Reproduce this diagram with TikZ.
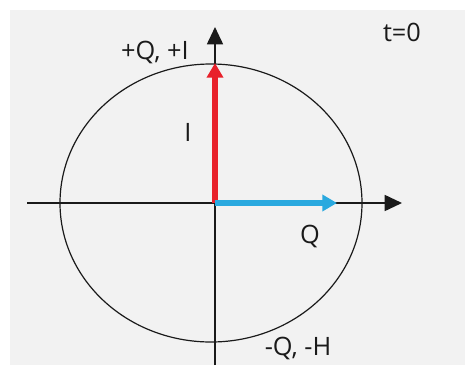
\documentclass[tikz,border=0pt]{standalone}
\usepackage{fontspec}
\setmainfont{Open Sans}
\usetikzlibrary{arrows.meta}
\definecolor{panel}{HTML}{F2F2F2}
\definecolor{ired}{HTML}{E8212B}
\definecolor{qblue}{HTML}{2AA9DF}
\definecolor{ink}{HTML}{1A1A1A}
\tikzset{
  axis/.style={ink,line width=1.3pt,-{Triangle[length=13pt,width=12pt]}},
  phasor/.style={line width=3.8pt,-{Triangle[length=11pt,width=12pt]}},
  lbl/.style={font=\fontsize{19}{22}\selectfont,text=ink,inner sep=0pt}
}
\begin{document}
\begin{tikzpicture}[x=0.75pt,y=-0.75pt]
\useasboundingbox (0,0) rectangle (465,365);
\fill[white] (0,0) rectangle (465,365);
\fill[panel] (10,10) rectangle (465,365);

\coordinate (O) at (215,203);
\coordinate (W) at (27,203);
\coordinate (E) at (402,203);
\coordinate (S) at (215,365);
\coordinate (N) at (215,27);
\coordinate (Itip) at (215,63);
\coordinate (Qtip) at (337,203);

\draw[ink,line width=0.9pt] (211,203) ellipse [x radius=151,y radius=139];

\draw[axis] (W)--(E);
\draw[axis] (S)--(N);

\draw[phasor,ired] (O)--(Itip);
\draw[phasor,qblue] (O)--(Qtip);

\node[lbl] (tlbl) at (402,32) {t=0};
\node[lbl] (plbl) at (155,52) {+Q, +I};
\node[lbl] (ilbl) at (188,132) {I};
\node[lbl] (qlbl) at (310,236) {Q};
\node[lbl] (mlbl) at (298,348) {-Q, -H};
\end{tikzpicture}
\end{document}
